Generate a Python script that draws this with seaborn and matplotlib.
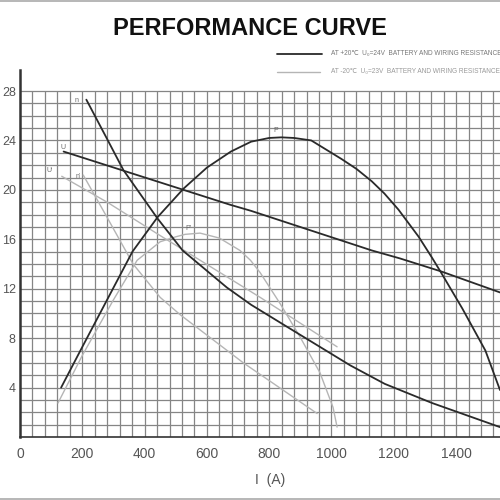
import matplotlib
matplotlib.use("Agg")
import matplotlib.pyplot as plt
import seaborn as sns
from matplotlib.lines import Line2D

sns.set_style("white")
plt.rcParams["font.family"] = ["Liberation Sans", "DejaVu Sans"]

# +20C curves (dark)
n_i = [213, 280, 332, 441, 522, 664, 742, 878, 1060, 1171, 1323, 1541]
n_v = [27.3, 24.1, 21.6, 17.7, 15.1, 12.1, 10.7, 8.6, 5.8, 4.3, 2.75, 0.8]
u_i = [140, 674, 742, 1129, 1220, 1352, 1541]
u_v = [23.1, 18.8, 18.3, 15.1, 14.45, 13.4, 11.7]
p_i = [132, 194, 290, 361, 442, 525, 600, 677, 742, 800, 839, 880, 935, 1032,
       1080, 1129, 1170, 1215, 1280, 1323, 1352, 1420, 1494, 1541]
p_v = [4.0, 7.0, 11.6, 15.0, 17.8, 20.1, 21.8, 23.1, 23.9, 24.2, 24.25, 24.2, 24.0, 22.5,
       21.7, 20.7, 19.7, 18.4, 16.2, 14.5, 13.3, 10.4, 7.0, 3.8]

# -20C curves (light)
n2_i = [203, 279, 363, 450, 514, 717, 954]
n2_v = [21.2, 17.8, 14.0, 11.3, 9.9, 6.0, 1.9]
u2_i = [134, 280, 450, 771, 1018]
u2_v = [21.1, 19.0, 16.3, 11.3, 7.3]
p2_i = [122, 200, 300, 376, 450, 500, 530, 578, 640, 706, 740, 771, 835, 899, 963, 1005, 1018]
p2_v = [2.75, 6.6, 11.1, 14.3, 15.8, 16.2, 16.4, 16.5, 16.1, 15.1, 14.3, 13.3, 10.8, 8.1, 5.2, 2.4, 0.8]

x_ticks = [0, 200, 400, 600, 800, 1000, 1200, 1400]
y_ticks = [4, 8, 12, 16, 20, 24, 28]

fig = plt.figure(figsize=(5, 5), dpi=100)
ax = fig.add_axes([0.04, 0.126, 0.96, 0.734])
ax.set_xlim(0, 1541)
ax.set_ylim(0, 29.7)

# grid paper
ax.vlines(range(40, 1541, 40), 0, 28, color="#858585", lw=0.9, zorder=1)
ax.hlines(range(1, 29), 0, 1541, color="#858585", lw=0.9, zorder=1)

dark = dict(color="#2a2a2a", lw=1.3, zorder=3)
light = dict(color="#b5b5b5", lw=1.0, zorder=2)
sns.lineplot(x=n_i, y=n_v, ax=ax, **dark)
sns.lineplot(x=u_i, y=u_v, ax=ax, **dark)
sns.lineplot(x=p_i, y=p_v, ax=ax, **dark)
sns.lineplot(x=n2_i, y=n2_v, ax=ax, **light)
sns.lineplot(x=u2_i, y=u2_v, ax=ax, **light)
sns.lineplot(x=p2_i, y=p2_v, ax=ax, **light)

lab = dict(fontsize=5, color="#666666", ha="center", va="center", zorder=4)
ax.text(180, 27.2, "n", **lab)
ax.text(138, 23.4, "U", **lab)
ax.text(96, 21.6, "U'", **lab)
ax.text(186, 21.1, "n'", **lab)
ax.text(822, 24.8, "P", **lab)
ax.text(540, 16.9, "P'", **lab)

for s in ["top", "right"]:
    ax.spines[s].set_visible(False)
ax.spines["left"].set_linewidth(1.8)
ax.spines["left"].set_color("#333333")
ax.spines["bottom"].set_linewidth(1.2)
ax.spines["bottom"].set_color("#333333")
ax.set_xticks(x_ticks)
ax.set_yticks(y_ticks)
ax.tick_params(axis="both", direction="in", length=4, width=1, colors="#333333",
               labelcolor="#555555", labelsize=10)
ax.tick_params(axis="y", pad=3, labelsize=9)
ax.tick_params(axis="x", pad=7)
ax.set_xlabel("")
ax.set_ylabel("")

fig.text(0.5, 0.943, "PERFORMANCE CURVE", ha="center", va="center",
         fontsize=17, fontweight="bold", color="#111111")

# legend
fig.add_artist(Line2D([277/500, 322/500], [1-54/500, 1-54/500], color="#2a2a2a", lw=1.3))
fig.add_artist(Line2D([277/500, 320/500], [1-72/500, 1-72/500], color="#b5b5b5", lw=1.0))
fig.text(331/500, 1-54/500, "AT +20\u2103  U\u2080=24V  BATTERY AND WIRING RESISTANCE",
         fontsize=4.7, color="#777777", va="center", ha="left")
fig.text(331/500, 1-72/500, "AT -20\u2103  U\u2080=23V  BATTERY AND WIRING RESISTANCE",
         fontsize=4.7, color="#999999", va="center", ha="left")

fig.text(270/500, 1-480/500, "I  (A)", fontsize=10, color="#555555", ha="center", va="center")

# page frame lines
fig.add_artist(Line2D([0, 1], [0.998, 0.998], color="#aaaaaa", lw=1.2))
fig.add_artist(Line2D([0, 1], [0.003, 0.003], color="#aaaaaa", lw=1.2))

fig.savefig("out.png", dpi=100)
